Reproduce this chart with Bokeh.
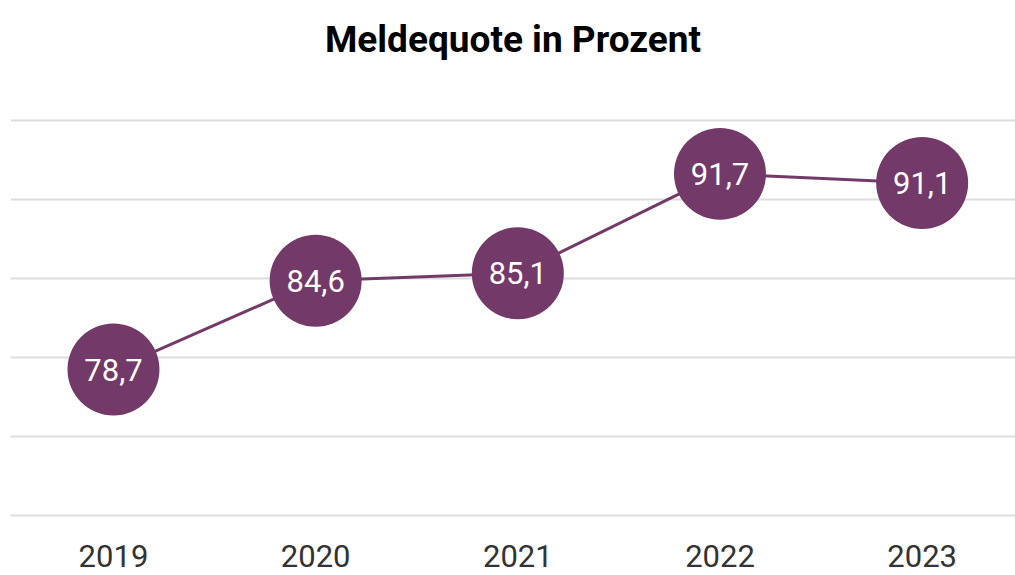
from bokeh.plotting import figure
from bokeh.models import Range1d, FixedTicker, ColumnDataSource
from bokeh.core.properties import value
from bokeh.embed import file_html
from bokeh.resources import INLINE

# data
years = [2019, 2020, 2021, 2022, 2023]
quote = [78.7, 84.6, 85.1, 91.7, 91.1]
labels = [f"{v:.1f}".replace(".", ",") for v in quote]
title = "Meldequote in Prozent"

PURPLE = "#733A69"

# y-scale layout (gridlines equally spaced)
grid_start = 69.0
grid_step = 5.25
grid_ticks = [grid_start + i * grid_step for i in range(6)]

p = figure(width=1015, height=575,
           x_range=Range1d(2018.4907, 2023.4617),
           y_range=Range1d(68.468, 98.236),
           output_backend="svg", toolbar_location=None,
           min_border_left=10, min_border_right=0,
           min_border_top=75, min_border_bottom=52)

p.title.text = title
p.title.align = "center"
p.title.offset = 2
p.title.standoff = 30
p.title.text_font = "Roboto"
p.title.text_font_size = "37px"
p.title.text_font_style = "bold"
p.title.text_color = "#000000"

p.outline_line_color = None
p.background_fill_color = "white"
p.border_fill_color = "white"

p.yaxis.visible = False
p.ygrid.ticker = FixedTicker(ticks=grid_ticks)
p.ygrid.grid_line_color = "#dddddd"
p.ygrid.grid_line_width = 2
p.xgrid.grid_line_color = None

p.xaxis.ticker = FixedTicker(ticks=years)
p.xaxis.axis_line_color = None
p.xaxis.major_tick_line_color = None
p.xaxis.minor_tick_line_color = None
p.xaxis.major_label_text_font = "Roboto"
p.xaxis.major_label_text_font_size = "31px"
p.xaxis.major_label_text_color = "#333333"
p.xaxis.major_label_standoff = 15

src = ColumnDataSource(dict(x=years, y=quote, label=labels))
p.line("x", "y", source=src, line_color=PURPLE, line_width=3)
p.scatter("x", "y", source=src, size=92, fill_color=PURPLE, line_color=None)
p.text("x", "y", text="label", source=src, text_align="center", text_baseline="middle",
       text_color="white", text_font=value("Roboto"), text_font_size="31px")

open("out.html", "w").write(file_html(p, INLINE))
